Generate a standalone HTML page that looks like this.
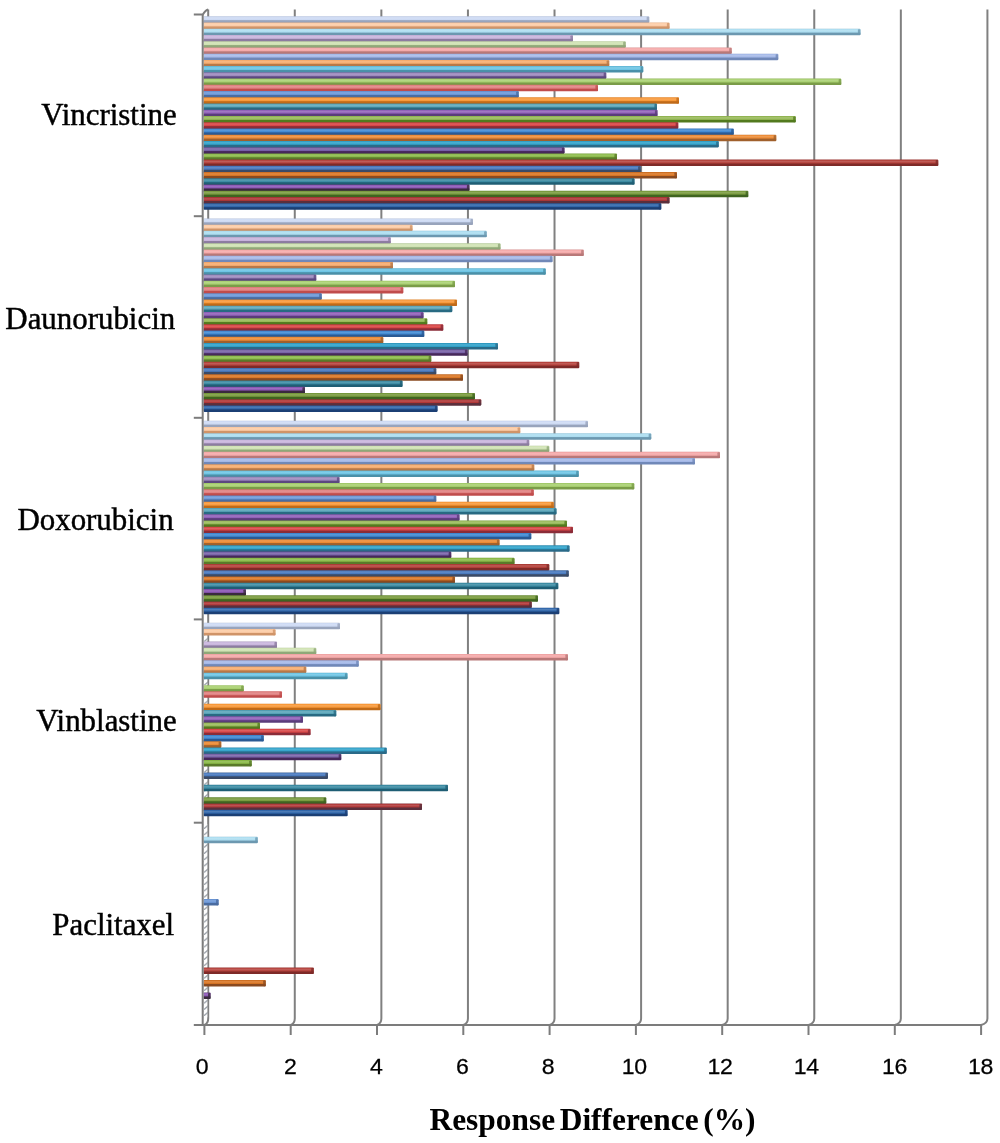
<!DOCTYPE html>
<html><head><meta charset="utf-8"><title>Response Difference</title>
<style>html,body{margin:0;padding:0;background:#fff}body{width:1000px;height:1143px;overflow:hidden}svg{display:block;filter:blur(0.45px)}.cat{font-family:"Liberation Serif",serif;font-size:30.9px;fill:#000;stroke:#000;stroke-width:0.45px}.num{font-family:"Liberation Sans",sans-serif;font-size:21.2px;fill:#000;stroke:#000;stroke-width:0.25px;letter-spacing:-0.4px}.ttl{font-family:"Liberation Serif",serif;font-weight:bold;font-size:31.4px;fill:#000;word-spacing:-3.2px}</style></head><body>
<svg width="1000" height="1143" viewBox="0 0 1000 1143">
<defs>
<linearGradient id="g1" x1="0" y1="0" x2="0" y2="1"><stop offset="0" stop-color="#25528f"/><stop offset="0.10" stop-color="#2F66AA"/><stop offset="0.28" stop-color="#4e7db7"/><stop offset="0.52" stop-color="#2F66AA"/><stop offset="0.68" stop-color="#1B3F74"/><stop offset="1" stop-color="#1B3F74"/></linearGradient>
<linearGradient id="g2" x1="0" y1="0" x2="0" y2="1"><stop offset="0" stop-color="#853239"/><stop offset="0.10" stop-color="#B03636"/><stop offset="0.28" stop-color="#bc5454"/><stop offset="0.52" stop-color="#B03636"/><stop offset="0.68" stop-color="#5A2F3C"/><stop offset="1" stop-color="#5A2F3C"/></linearGradient>
<linearGradient id="g3" x1="0" y1="0" x2="0" y2="1"><stop offset="0" stop-color="#5c7f2e"/><stop offset="0.10" stop-color="#789A3C"/><stop offset="0.28" stop-color="#8ca959"/><stop offset="0.52" stop-color="#789A3C"/><stop offset="0.68" stop-color="#3F6420"/><stop offset="1" stop-color="#3F6420"/></linearGradient>
<linearGradient id="g4" x1="0" y1="0" x2="0" y2="1"><stop offset="0" stop-color="#623f79"/><stop offset="0.10" stop-color="#8A54B4"/><stop offset="0.28" stop-color="#9c6ebf"/><stop offset="0.52" stop-color="#8A54B4"/><stop offset="0.68" stop-color="#3A2A3E"/><stop offset="1" stop-color="#3A2A3E"/></linearGradient>
<linearGradient id="g5" x1="0" y1="0" x2="0" y2="1"><stop offset="0" stop-color="#2c748b"/><stop offset="0.10" stop-color="#3A8AA2"/><stop offset="0.28" stop-color="#589cb0"/><stop offset="0.52" stop-color="#3A8AA2"/><stop offset="0.68" stop-color="#1F5E74"/><stop offset="1" stop-color="#1F5E74"/></linearGradient>
<linearGradient id="g6" x1="0" y1="0" x2="0" y2="1"><stop offset="0" stop-color="#b26022"/><stop offset="0.10" stop-color="#DA7624"/><stop offset="0.28" stop-color="#e08b45"/><stop offset="0.52" stop-color="#DA7624"/><stop offset="0.68" stop-color="#8A4A20"/><stop offset="1" stop-color="#8A4A20"/></linearGradient>
<linearGradient id="g7" x1="0" y1="0" x2="0" y2="1"><stop offset="0" stop-color="#406192"/><stop offset="0.10" stop-color="#4678BE"/><stop offset="0.28" stop-color="#628cc8"/><stop offset="0.52" stop-color="#4678BE"/><stop offset="0.68" stop-color="#3A4A66"/><stop offset="1" stop-color="#3A4A66"/></linearGradient>
<linearGradient id="g8" x1="0" y1="0" x2="0" y2="1"><stop offset="0" stop-color="#993531"/><stop offset="0.10" stop-color="#B4403A"/><stop offset="0.28" stop-color="#bf5d58"/><stop offset="0.52" stop-color="#B4403A"/><stop offset="0.68" stop-color="#7E2A28"/><stop offset="1" stop-color="#7E2A28"/></linearGradient>
<linearGradient id="g9" x1="0" y1="0" x2="0" y2="1"><stop offset="0" stop-color="#729a39"/><stop offset="0.10" stop-color="#8ABA48"/><stop offset="0.28" stop-color="#9cc463"/><stop offset="0.52" stop-color="#8ABA48"/><stop offset="0.68" stop-color="#5A7A2A"/><stop offset="1" stop-color="#5A7A2A"/></linearGradient>
<linearGradient id="g10" x1="0" y1="0" x2="0" y2="1"><stop offset="0" stop-color="#5e4480"/><stop offset="0.10" stop-color="#7660A6"/><stop offset="0.28" stop-color="#8b78b3"/><stop offset="0.52" stop-color="#7660A6"/><stop offset="0.68" stop-color="#46285A"/><stop offset="1" stop-color="#46285A"/></linearGradient>
<linearGradient id="g11" x1="0" y1="0" x2="0" y2="1"><stop offset="0" stop-color="#2d86a9"/><stop offset="0.10" stop-color="#30A2CA"/><stop offset="0.28" stop-color="#4fb0d2"/><stop offset="0.52" stop-color="#30A2CA"/><stop offset="0.68" stop-color="#2A6A88"/><stop offset="1" stop-color="#2A6A88"/></linearGradient>
<linearGradient id="g12" x1="0" y1="0" x2="0" y2="1"><stop offset="0" stop-color="#c67530"/><stop offset="0.10" stop-color="#EC8A34"/><stop offset="0.28" stop-color="#ef9c52"/><stop offset="0.52" stop-color="#EC8A34"/><stop offset="0.68" stop-color="#A0602C"/><stop offset="1" stop-color="#A0602C"/></linearGradient>
<linearGradient id="g13" x1="0" y1="0" x2="0" y2="1"><stop offset="0" stop-color="#3471b3"/><stop offset="0.10" stop-color="#3E88D2"/><stop offset="0.28" stop-color="#5b9ad9"/><stop offset="0.52" stop-color="#3E88D2"/><stop offset="0.68" stop-color="#2A5A94"/><stop offset="1" stop-color="#2A5A94"/></linearGradient>
<linearGradient id="g14" x1="0" y1="0" x2="0" y2="1"><stop offset="0" stop-color="#b1383e"/><stop offset="0.10" stop-color="#D84444"/><stop offset="0.28" stop-color="#de6060"/><stop offset="0.52" stop-color="#D84444"/><stop offset="0.68" stop-color="#8A2C38"/><stop offset="1" stop-color="#8A2C38"/></linearGradient>
<linearGradient id="g15" x1="0" y1="0" x2="0" y2="1"><stop offset="0" stop-color="#759a3b"/><stop offset="0.10" stop-color="#98BA58"/><stop offset="0.28" stop-color="#a7c471"/><stop offset="0.52" stop-color="#98BA58"/><stop offset="0.68" stop-color="#527A1E"/><stop offset="1" stop-color="#527A1E"/></linearGradient>
<linearGradient id="g16" x1="0" y1="0" x2="0" y2="1"><stop offset="0" stop-color="#754e99"/><stop offset="0.10" stop-color="#9060B8"/><stop offset="0.28" stop-color="#a178c3"/><stop offset="0.52" stop-color="#9060B8"/><stop offset="0.68" stop-color="#5A3C7A"/><stop offset="1" stop-color="#5A3C7A"/></linearGradient>
<linearGradient id="g17" x1="0" y1="0" x2="0" y2="1"><stop offset="0" stop-color="#41889e"/><stop offset="0.10" stop-color="#5AA6BA"/><stop offset="0.28" stop-color="#73b3c4"/><stop offset="0.52" stop-color="#5AA6BA"/><stop offset="0.68" stop-color="#286A82"/><stop offset="1" stop-color="#286A82"/></linearGradient>
<linearGradient id="g18" x1="0" y1="0" x2="0" y2="1"><stop offset="0" stop-color="#dc8128"/><stop offset="0.10" stop-color="#F89838"/><stop offset="0.28" stop-color="#f9a756"/><stop offset="0.52" stop-color="#F89838"/><stop offset="0.68" stop-color="#C06A18"/><stop offset="1" stop-color="#C06A18"/></linearGradient>
<linearGradient id="g19" x1="0" y1="0" x2="0" y2="1"><stop offset="0" stop-color="#5b82bc"/><stop offset="0.10" stop-color="#6C98D8"/><stop offset="0.28" stop-color="#82a7de"/><stop offset="0.52" stop-color="#6C98D8"/><stop offset="0.68" stop-color="#4A6CA0"/><stop offset="1" stop-color="#4A6CA0"/></linearGradient>
<linearGradient id="g20" x1="0" y1="0" x2="0" y2="1"><stop offset="0" stop-color="#d06666"/><stop offset="0.10" stop-color="#E08080"/><stop offset="0.28" stop-color="#e59393"/><stop offset="0.52" stop-color="#E08080"/><stop offset="0.68" stop-color="#C04C4C"/><stop offset="1" stop-color="#C04C4C"/></linearGradient>
<linearGradient id="g21" x1="0" y1="0" x2="0" y2="1"><stop offset="0" stop-color="#91b65c"/><stop offset="0.10" stop-color="#A8D070"/><stop offset="0.28" stop-color="#b5d785"/><stop offset="0.52" stop-color="#A8D070"/><stop offset="0.68" stop-color="#7A9C48"/><stop offset="1" stop-color="#7A9C48"/></linearGradient>
<linearGradient id="g22" x1="0" y1="0" x2="0" y2="1"><stop offset="0" stop-color="#7c689e"/><stop offset="0.10" stop-color="#9C88BC"/><stop offset="0.28" stop-color="#ab9ac6"/><stop offset="0.52" stop-color="#9C88BC"/><stop offset="0.68" stop-color="#5C4880"/><stop offset="1" stop-color="#5C4880"/></linearGradient>
<linearGradient id="g23" x1="0" y1="0" x2="0" y2="1"><stop offset="0" stop-color="#5baac6"/><stop offset="0.10" stop-color="#6CC4E4"/><stop offset="0.28" stop-color="#82cde8"/><stop offset="0.52" stop-color="#6CC4E4"/><stop offset="0.68" stop-color="#4A90A8"/><stop offset="1" stop-color="#4A90A8"/></linearGradient>
<linearGradient id="g24" x1="0" y1="0" x2="0" y2="1"><stop offset="0" stop-color="#d7925b"/><stop offset="0.10" stop-color="#F6AC6E"/><stop offset="0.28" stop-color="#f7b884"/><stop offset="0.52" stop-color="#F6AC6E"/><stop offset="0.68" stop-color="#B87848"/><stop offset="1" stop-color="#B87848"/></linearGradient>
<linearGradient id="g25" x1="0" y1="0" x2="0" y2="1"><stop offset="0" stop-color="#8aa0d0"/><stop offset="0.10" stop-color="#A4B8E8"/><stop offset="0.28" stop-color="#b2c3eb"/><stop offset="0.52" stop-color="#A4B8E8"/><stop offset="0.68" stop-color="#7088B8"/><stop offset="1" stop-color="#7088B8"/></linearGradient>
<linearGradient id="g26" x1="0" y1="0" x2="0" y2="1"><stop offset="0" stop-color="#d69090"/><stop offset="0.10" stop-color="#F4A8A8"/><stop offset="0.28" stop-color="#f6b5b5"/><stop offset="0.52" stop-color="#F4A8A8"/><stop offset="0.68" stop-color="#B87878"/><stop offset="1" stop-color="#B87878"/></linearGradient>
<linearGradient id="g27" x1="0" y1="0" x2="0" y2="1"><stop offset="0" stop-color="#afc595"/><stop offset="0.10" stop-color="#CFE2B2"/><stop offset="0.28" stop-color="#d6e6be"/><stop offset="0.52" stop-color="#CFE2B2"/><stop offset="0.68" stop-color="#8FA878"/><stop offset="1" stop-color="#8FA878"/></linearGradient>
<linearGradient id="g28" x1="0" y1="0" x2="0" y2="1"><stop offset="0" stop-color="#aa98be"/><stop offset="0.10" stop-color="#C8B4DC"/><stop offset="0.28" stop-color="#d0bfe1"/><stop offset="0.52" stop-color="#C8B4DC"/><stop offset="0.68" stop-color="#8C7CA0"/><stop offset="1" stop-color="#8C7CA0"/></linearGradient>
<linearGradient id="g29" x1="0" y1="0" x2="0" y2="1"><stop offset="0" stop-color="#8cbad0"/><stop offset="0.10" stop-color="#ACDDF0"/><stop offset="0.28" stop-color="#b8e2f2"/><stop offset="0.52" stop-color="#ACDDF0"/><stop offset="0.68" stop-color="#6C98B0"/><stop offset="1" stop-color="#6C98B0"/></linearGradient>
<linearGradient id="g30" x1="0" y1="0" x2="0" y2="1"><stop offset="0" stop-color="#e6b086"/><stop offset="0.10" stop-color="#FCCBA5"/><stop offset="0.28" stop-color="#fcd3b2"/><stop offset="0.52" stop-color="#FCCBA5"/><stop offset="0.68" stop-color="#D09468"/><stop offset="1" stop-color="#D09468"/></linearGradient>
<linearGradient id="g31" x1="0" y1="0" x2="0" y2="1"><stop offset="0" stop-color="#b2bed8"/><stop offset="0.10" stop-color="#CCD9F3"/><stop offset="0.28" stop-color="#d4dff5"/><stop offset="0.52" stop-color="#CCD9F3"/><stop offset="0.68" stop-color="#98A4BC"/><stop offset="1" stop-color="#98A4BC"/></linearGradient>
<pattern id="hz" width="6" height="6.233" patternUnits="userSpaceOnUse"><rect width="6" height="6.233" fill="#fff"/><path d="M0 6 L6 1" stroke="#9aa0a8" stroke-width="1.3" fill="none"/></pattern>
</defs>
<rect width="1000" height="1143" fill="#fff"/>
<g fill="none" stroke="#808080" stroke-width="2" stroke-linejoin="round">
<path d="M208.20 9.6 V1018.6 Q208.20 1023.6 204.40 1025.00"/>
<path d="M294.78 9.6 V1018.6 Q294.78 1023.6 290.70 1025.00"/>
<path d="M381.36 9.6 V1018.6 Q381.36 1023.6 377.00 1025.00"/>
<path d="M467.94 9.6 V1018.6 Q467.94 1023.6 463.30 1025.00"/>
<path d="M554.52 9.6 V1018.6 Q554.52 1023.6 549.60 1025.00"/>
<path d="M641.10 9.6 V1018.6 Q641.10 1023.6 635.90 1025.00"/>
<path d="M727.68 9.6 V1018.6 Q727.68 1023.6 722.20 1025.00"/>
<path d="M814.26 9.6 V1018.6 Q814.26 1023.6 808.50 1025.00"/>
<path d="M900.84 9.6 V1018.6 Q900.84 1023.6 894.80 1025.00"/>
<path d="M987.42 9.6 V1018.6 Q987.42 1023.6 981.10 1025.00"/>
</g>
<rect x="203.60" y="21.28" width="445.05" height="2.2" fill="#98A4BC"/>
<rect x="203.60" y="27.52" width="465.30" height="2.2" fill="#D09468"/>
<rect x="203.60" y="33.75" width="368.80" height="2.2" fill="#6C98B0"/>
<rect x="203.60" y="39.98" width="368.80" height="2.2" fill="#8C7CA0"/>
<rect x="203.60" y="46.21" width="421.55" height="2.2" fill="#8FA878"/>
<rect x="203.60" y="52.45" width="527.55" height="2.2" fill="#B87878"/>
<rect x="203.60" y="58.68" width="405.05" height="2.2" fill="#7088B8"/>
<rect x="203.60" y="64.91" width="405.05" height="2.2" fill="#B87848"/>
<rect x="203.60" y="71.15" width="402.05" height="2.2" fill="#4A90A8"/>
<rect x="203.60" y="77.38" width="402.05" height="2.2" fill="#5C4880"/>
<rect x="203.60" y="83.61" width="393.80" height="2.2" fill="#7A9C48"/>
<rect x="203.60" y="89.85" width="314.55" height="2.2" fill="#C04C4C"/>
<rect x="203.60" y="96.08" width="314.55" height="2.2" fill="#4A6CA0"/>
<rect x="203.60" y="102.31" width="452.80" height="2.2" fill="#C06A18"/>
<rect x="203.60" y="108.54" width="452.80" height="2.2" fill="#286A82"/>
<rect x="203.60" y="114.78" width="453.30" height="2.2" fill="#5A3C7A"/>
<rect x="203.60" y="121.01" width="474.05" height="2.2" fill="#527A1E"/>
<rect x="203.60" y="127.24" width="474.05" height="2.2" fill="#8A2C38"/>
<rect x="203.60" y="133.48" width="529.55" height="2.2" fill="#2A5A94"/>
<rect x="203.60" y="139.71" width="514.55" height="2.2" fill="#A0602C"/>
<rect x="203.60" y="145.94" width="360.30" height="2.2" fill="#2A6A88"/>
<rect x="203.60" y="152.18" width="360.30" height="2.2" fill="#46285A"/>
<rect x="203.60" y="158.41" width="412.80" height="2.2" fill="#5A7A2A"/>
<rect x="203.60" y="164.64" width="436.55" height="2.2" fill="#7E2A28"/>
<rect x="203.60" y="170.88" width="436.55" height="2.2" fill="#3A4A66"/>
<rect x="203.60" y="177.11" width="430.30" height="2.2" fill="#8A4A20"/>
<rect x="203.60" y="183.34" width="265.30" height="2.2" fill="#1F5E74"/>
<rect x="203.60" y="189.57" width="265.30" height="2.2" fill="#3A2A3E"/>
<rect x="203.60" y="195.81" width="465.30" height="2.2" fill="#3F6420"/>
<rect x="203.60" y="202.04" width="457.05" height="2.2" fill="#5A2F3C"/>
<rect x="203.60" y="16.25" width="445.65" height="6.50" rx="0.8" fill="url(#g31)"/>
<rect x="646.65" y="16.75" width="2.60" height="5.70" rx="0.8" fill="#98A4BC" fill-opacity="0.8"/>
<rect x="203.60" y="22.48" width="465.90" height="6.50" rx="0.8" fill="url(#g30)"/>
<rect x="666.90" y="22.98" width="2.60" height="5.70" rx="0.8" fill="#D09468" fill-opacity="0.8"/>
<rect x="203.60" y="28.72" width="656.90" height="6.50" rx="0.8" fill="url(#g29)"/>
<rect x="857.90" y="29.22" width="2.60" height="5.70" rx="0.8" fill="#6C98B0" fill-opacity="0.8"/>
<rect x="203.60" y="34.95" width="369.40" height="6.50" rx="0.8" fill="url(#g28)"/>
<rect x="570.40" y="35.45" width="2.60" height="5.70" rx="0.8" fill="#8C7CA0" fill-opacity="0.8"/>
<rect x="203.60" y="41.18" width="422.15" height="6.50" rx="0.8" fill="url(#g27)"/>
<rect x="623.15" y="41.68" width="2.60" height="5.70" rx="0.8" fill="#8FA878" fill-opacity="0.8"/>
<rect x="203.60" y="47.41" width="528.15" height="6.50" rx="0.8" fill="url(#g26)"/>
<rect x="729.15" y="47.91" width="2.60" height="5.70" rx="0.8" fill="#B87878" fill-opacity="0.8"/>
<rect x="203.60" y="53.65" width="574.65" height="6.50" rx="0.8" fill="url(#g25)"/>
<rect x="775.65" y="54.15" width="2.60" height="5.70" rx="0.8" fill="#7088B8" fill-opacity="0.8"/>
<rect x="203.60" y="59.88" width="405.65" height="6.50" rx="0.8" fill="url(#g24)"/>
<rect x="606.65" y="60.38" width="2.60" height="5.70" rx="0.8" fill="#B87848" fill-opacity="0.8"/>
<rect x="203.60" y="66.11" width="439.65" height="6.50" rx="0.8" fill="url(#g23)"/>
<rect x="640.65" y="66.61" width="2.60" height="5.70" rx="0.8" fill="#4A90A8" fill-opacity="0.8"/>
<rect x="203.60" y="72.35" width="402.65" height="6.50" rx="0.8" fill="url(#g22)"/>
<rect x="603.65" y="72.85" width="2.60" height="5.70" rx="0.8" fill="#5C4880" fill-opacity="0.8"/>
<rect x="203.60" y="78.58" width="637.65" height="6.50" rx="0.8" fill="url(#g21)"/>
<rect x="838.65" y="79.08" width="2.60" height="5.70" rx="0.8" fill="#7A9C48" fill-opacity="0.8"/>
<rect x="203.60" y="84.81" width="394.40" height="6.50" rx="0.8" fill="url(#g20)"/>
<rect x="595.40" y="85.31" width="2.60" height="5.70" rx="0.8" fill="#C04C4C" fill-opacity="0.8"/>
<rect x="203.60" y="91.05" width="315.15" height="6.50" rx="0.8" fill="url(#g19)"/>
<rect x="516.15" y="91.55" width="2.60" height="5.70" rx="0.8" fill="#4A6CA0" fill-opacity="0.8"/>
<rect x="203.60" y="97.28" width="475.40" height="6.50" rx="0.8" fill="url(#g18)"/>
<rect x="676.40" y="97.78" width="2.60" height="5.70" rx="0.8" fill="#C06A18" fill-opacity="0.8"/>
<rect x="203.60" y="103.51" width="453.40" height="6.50" rx="0.8" fill="url(#g17)"/>
<rect x="654.40" y="104.01" width="2.60" height="5.70" rx="0.8" fill="#286A82" fill-opacity="0.8"/>
<rect x="203.60" y="109.74" width="453.90" height="6.50" rx="0.8" fill="url(#g16)"/>
<rect x="654.90" y="110.24" width="2.60" height="5.70" rx="0.8" fill="#5A3C7A" fill-opacity="0.8"/>
<rect x="203.60" y="115.98" width="592.15" height="6.50" rx="0.8" fill="url(#g15)"/>
<rect x="793.15" y="116.48" width="2.60" height="5.70" rx="0.8" fill="#527A1E" fill-opacity="0.8"/>
<rect x="203.60" y="122.21" width="474.65" height="6.50" rx="0.8" fill="url(#g14)"/>
<rect x="675.65" y="122.71" width="2.60" height="5.70" rx="0.8" fill="#8A2C38" fill-opacity="0.8"/>
<rect x="203.60" y="128.44" width="530.15" height="6.50" rx="0.8" fill="url(#g13)"/>
<rect x="731.15" y="128.94" width="2.60" height="5.70" rx="0.8" fill="#2A5A94" fill-opacity="0.8"/>
<rect x="203.60" y="134.68" width="572.65" height="6.50" rx="0.8" fill="url(#g12)"/>
<rect x="773.65" y="135.18" width="2.60" height="5.70" rx="0.8" fill="#A0602C" fill-opacity="0.8"/>
<rect x="203.60" y="140.91" width="515.15" height="6.50" rx="0.8" fill="url(#g11)"/>
<rect x="716.15" y="141.41" width="2.60" height="5.70" rx="0.8" fill="#2A6A88" fill-opacity="0.8"/>
<rect x="203.60" y="147.14" width="360.90" height="6.50" rx="0.8" fill="url(#g10)"/>
<rect x="561.90" y="147.64" width="2.60" height="5.70" rx="0.8" fill="#46285A" fill-opacity="0.8"/>
<rect x="203.60" y="153.38" width="413.40" height="6.50" rx="0.8" fill="url(#g9)"/>
<rect x="614.40" y="153.88" width="2.60" height="5.70" rx="0.8" fill="#5A7A2A" fill-opacity="0.8"/>
<rect x="203.60" y="159.61" width="734.65" height="6.50" rx="0.8" fill="url(#g8)"/>
<rect x="935.65" y="160.11" width="2.60" height="5.70" rx="0.8" fill="#7E2A28" fill-opacity="0.8"/>
<rect x="203.60" y="165.84" width="437.15" height="6.50" rx="0.8" fill="url(#g7)"/>
<rect x="638.15" y="166.34" width="2.60" height="5.70" rx="0.8" fill="#3A4A66" fill-opacity="0.8"/>
<rect x="203.60" y="172.07" width="473.40" height="6.50" rx="0.8" fill="url(#g6)"/>
<rect x="674.40" y="172.57" width="2.60" height="5.70" rx="0.8" fill="#8A4A20" fill-opacity="0.8"/>
<rect x="203.60" y="178.31" width="430.90" height="6.50" rx="0.8" fill="url(#g5)"/>
<rect x="631.90" y="178.81" width="2.60" height="5.70" rx="0.8" fill="#1F5E74" fill-opacity="0.8"/>
<rect x="203.60" y="184.54" width="265.90" height="6.50" rx="0.8" fill="url(#g4)"/>
<rect x="466.90" y="185.04" width="2.60" height="5.70" rx="0.8" fill="#3A2A3E" fill-opacity="0.8"/>
<rect x="203.60" y="190.77" width="544.65" height="6.50" rx="0.8" fill="url(#g3)"/>
<rect x="745.65" y="191.27" width="2.60" height="5.70" rx="0.8" fill="#3F6420" fill-opacity="0.8"/>
<rect x="203.60" y="197.01" width="465.90" height="6.50" rx="0.8" fill="url(#g2)"/>
<rect x="666.90" y="197.51" width="2.60" height="5.70" rx="0.8" fill="#5A2F3C" fill-opacity="0.8"/>
<rect x="203.60" y="203.24" width="457.65" height="6.50" rx="0.8" fill="url(#g1)"/>
<rect x="658.65" y="203.74" width="2.60" height="5.70" rx="0.8" fill="#1B3F74" fill-opacity="0.8"/>
<rect x="203.60" y="223.43" width="208.30" height="2.2" fill="#98A4BC"/>
<rect x="203.60" y="229.67" width="208.30" height="2.2" fill="#D09468"/>
<rect x="203.60" y="235.90" width="186.55" height="2.2" fill="#6C98B0"/>
<rect x="203.60" y="242.13" width="186.55" height="2.2" fill="#8C7CA0"/>
<rect x="203.60" y="248.37" width="296.30" height="2.2" fill="#8FA878"/>
<rect x="203.60" y="254.60" width="348.30" height="2.2" fill="#B87878"/>
<rect x="203.60" y="260.83" width="188.80" height="2.2" fill="#7088B8"/>
<rect x="203.60" y="267.06" width="188.80" height="2.2" fill="#B87848"/>
<rect x="203.60" y="273.30" width="112.05" height="2.2" fill="#4A90A8"/>
<rect x="203.60" y="279.53" width="112.05" height="2.2" fill="#5C4880"/>
<rect x="203.60" y="285.76" width="199.05" height="2.2" fill="#7A9C48"/>
<rect x="203.60" y="292.00" width="117.55" height="2.2" fill="#C04C4C"/>
<rect x="203.60" y="298.23" width="117.55" height="2.2" fill="#4A6CA0"/>
<rect x="203.60" y="304.46" width="248.05" height="2.2" fill="#C06A18"/>
<rect x="203.60" y="310.69" width="219.30" height="2.2" fill="#286A82"/>
<rect x="203.60" y="316.93" width="219.30" height="2.2" fill="#5A3C7A"/>
<rect x="203.60" y="323.16" width="223.05" height="2.2" fill="#527A1E"/>
<rect x="203.60" y="329.39" width="220.05" height="2.2" fill="#8A2C38"/>
<rect x="203.60" y="335.63" width="179.05" height="2.2" fill="#2A5A94"/>
<rect x="203.60" y="341.86" width="179.05" height="2.2" fill="#A0602C"/>
<rect x="203.60" y="348.09" width="263.30" height="2.2" fill="#2A6A88"/>
<rect x="203.60" y="354.33" width="227.05" height="2.2" fill="#46285A"/>
<rect x="203.60" y="360.56" width="227.05" height="2.2" fill="#5A7A2A"/>
<rect x="203.60" y="366.79" width="232.05" height="2.2" fill="#7E2A28"/>
<rect x="203.60" y="373.03" width="232.05" height="2.2" fill="#3A4A66"/>
<rect x="203.60" y="379.26" width="198.30" height="2.2" fill="#8A4A20"/>
<rect x="203.60" y="385.49" width="100.80" height="2.2" fill="#1F5E74"/>
<rect x="203.60" y="391.72" width="100.80" height="2.2" fill="#3A2A3E"/>
<rect x="203.60" y="397.96" width="270.80" height="2.2" fill="#3F6420"/>
<rect x="203.60" y="404.19" width="233.30" height="2.2" fill="#5A2F3C"/>
<rect x="203.60" y="218.40" width="269.40" height="6.50" rx="0.8" fill="url(#g31)"/>
<rect x="470.40" y="218.90" width="2.60" height="5.70" rx="0.8" fill="#98A4BC" fill-opacity="0.8"/>
<rect x="203.60" y="224.63" width="208.90" height="6.50" rx="0.8" fill="url(#g30)"/>
<rect x="409.90" y="225.13" width="2.60" height="5.70" rx="0.8" fill="#D09468" fill-opacity="0.8"/>
<rect x="203.60" y="230.87" width="283.15" height="6.50" rx="0.8" fill="url(#g29)"/>
<rect x="484.15" y="231.37" width="2.60" height="5.70" rx="0.8" fill="#6C98B0" fill-opacity="0.8"/>
<rect x="203.60" y="237.10" width="187.15" height="6.50" rx="0.8" fill="url(#g28)"/>
<rect x="388.15" y="237.60" width="2.60" height="5.70" rx="0.8" fill="#8C7CA0" fill-opacity="0.8"/>
<rect x="203.60" y="243.33" width="296.90" height="6.50" rx="0.8" fill="url(#g27)"/>
<rect x="497.90" y="243.83" width="2.60" height="5.70" rx="0.8" fill="#8FA878" fill-opacity="0.8"/>
<rect x="203.60" y="249.56" width="380.15" height="6.50" rx="0.8" fill="url(#g26)"/>
<rect x="581.15" y="250.06" width="2.60" height="5.70" rx="0.8" fill="#B87878" fill-opacity="0.8"/>
<rect x="203.60" y="255.80" width="348.90" height="6.50" rx="0.8" fill="url(#g25)"/>
<rect x="549.90" y="256.30" width="2.60" height="5.70" rx="0.8" fill="#7088B8" fill-opacity="0.8"/>
<rect x="203.60" y="262.03" width="189.40" height="6.50" rx="0.8" fill="url(#g24)"/>
<rect x="390.40" y="262.53" width="2.60" height="5.70" rx="0.8" fill="#B87848" fill-opacity="0.8"/>
<rect x="203.60" y="268.26" width="342.15" height="6.50" rx="0.8" fill="url(#g23)"/>
<rect x="543.15" y="268.76" width="2.60" height="5.70" rx="0.8" fill="#4A90A8" fill-opacity="0.8"/>
<rect x="203.60" y="274.50" width="112.65" height="6.50" rx="0.8" fill="url(#g22)"/>
<rect x="313.65" y="275.00" width="2.60" height="5.70" rx="0.8" fill="#5C4880" fill-opacity="0.8"/>
<rect x="203.60" y="280.73" width="251.40" height="6.50" rx="0.8" fill="url(#g21)"/>
<rect x="452.40" y="281.23" width="2.60" height="5.70" rx="0.8" fill="#7A9C48" fill-opacity="0.8"/>
<rect x="203.60" y="286.96" width="199.65" height="6.50" rx="0.8" fill="url(#g20)"/>
<rect x="400.65" y="287.46" width="2.60" height="5.70" rx="0.8" fill="#C04C4C" fill-opacity="0.8"/>
<rect x="203.60" y="293.20" width="118.15" height="6.50" rx="0.8" fill="url(#g19)"/>
<rect x="319.15" y="293.70" width="2.60" height="5.70" rx="0.8" fill="#4A6CA0" fill-opacity="0.8"/>
<rect x="203.60" y="299.43" width="253.40" height="6.50" rx="0.8" fill="url(#g18)"/>
<rect x="454.40" y="299.93" width="2.60" height="5.70" rx="0.8" fill="#C06A18" fill-opacity="0.8"/>
<rect x="203.60" y="305.66" width="248.65" height="6.50" rx="0.8" fill="url(#g17)"/>
<rect x="449.65" y="306.16" width="2.60" height="5.70" rx="0.8" fill="#286A82" fill-opacity="0.8"/>
<rect x="203.60" y="311.89" width="219.90" height="6.50" rx="0.8" fill="url(#g16)"/>
<rect x="420.90" y="312.39" width="2.60" height="5.70" rx="0.8" fill="#5A3C7A" fill-opacity="0.8"/>
<rect x="203.60" y="318.13" width="223.65" height="6.50" rx="0.8" fill="url(#g15)"/>
<rect x="424.65" y="318.63" width="2.60" height="5.70" rx="0.8" fill="#527A1E" fill-opacity="0.8"/>
<rect x="203.60" y="324.36" width="239.65" height="6.50" rx="0.8" fill="url(#g14)"/>
<rect x="440.65" y="324.86" width="2.60" height="5.70" rx="0.8" fill="#8A2C38" fill-opacity="0.8"/>
<rect x="203.60" y="330.59" width="220.65" height="6.50" rx="0.8" fill="url(#g13)"/>
<rect x="421.65" y="331.09" width="2.60" height="5.70" rx="0.8" fill="#2A5A94" fill-opacity="0.8"/>
<rect x="203.60" y="336.83" width="179.65" height="6.50" rx="0.8" fill="url(#g12)"/>
<rect x="380.65" y="337.33" width="2.60" height="5.70" rx="0.8" fill="#A0602C" fill-opacity="0.8"/>
<rect x="203.60" y="343.06" width="294.40" height="6.50" rx="0.8" fill="url(#g11)"/>
<rect x="495.40" y="343.56" width="2.60" height="5.70" rx="0.8" fill="#2A6A88" fill-opacity="0.8"/>
<rect x="203.60" y="349.29" width="263.90" height="6.50" rx="0.8" fill="url(#g10)"/>
<rect x="464.90" y="349.79" width="2.60" height="5.70" rx="0.8" fill="#46285A" fill-opacity="0.8"/>
<rect x="203.60" y="355.53" width="227.65" height="6.50" rx="0.8" fill="url(#g9)"/>
<rect x="428.65" y="356.03" width="2.60" height="5.70" rx="0.8" fill="#5A7A2A" fill-opacity="0.8"/>
<rect x="203.60" y="361.76" width="375.60" height="6.50" rx="0.8" fill="url(#g8)"/>
<rect x="576.60" y="362.26" width="2.60" height="5.70" rx="0.8" fill="#7E2A28" fill-opacity="0.8"/>
<rect x="203.60" y="367.99" width="232.65" height="6.50" rx="0.8" fill="url(#g7)"/>
<rect x="433.65" y="368.49" width="2.60" height="5.70" rx="0.8" fill="#3A4A66" fill-opacity="0.8"/>
<rect x="203.60" y="374.23" width="259.40" height="6.50" rx="0.8" fill="url(#g6)"/>
<rect x="460.40" y="374.73" width="2.60" height="5.70" rx="0.8" fill="#8A4A20" fill-opacity="0.8"/>
<rect x="203.60" y="380.46" width="198.90" height="6.50" rx="0.8" fill="url(#g5)"/>
<rect x="399.90" y="380.96" width="2.60" height="5.70" rx="0.8" fill="#1F5E74" fill-opacity="0.8"/>
<rect x="203.60" y="386.69" width="101.40" height="6.50" rx="0.8" fill="url(#g4)"/>
<rect x="302.40" y="387.19" width="2.60" height="5.70" rx="0.8" fill="#3A2A3E" fill-opacity="0.8"/>
<rect x="203.60" y="392.92" width="271.40" height="6.50" rx="0.8" fill="url(#g3)"/>
<rect x="472.40" y="393.42" width="2.60" height="5.70" rx="0.8" fill="#3F6420" fill-opacity="0.8"/>
<rect x="203.60" y="399.16" width="277.65" height="6.50" rx="0.8" fill="url(#g2)"/>
<rect x="478.65" y="399.66" width="2.60" height="5.70" rx="0.8" fill="#5A2F3C" fill-opacity="0.8"/>
<rect x="203.60" y="405.39" width="233.90" height="6.50" rx="0.8" fill="url(#g1)"/>
<rect x="434.90" y="405.89" width="2.60" height="5.70" rx="0.8" fill="#1B3F74" fill-opacity="0.8"/>
<rect x="203.60" y="425.73" width="316.05" height="2.2" fill="#98A4BC"/>
<rect x="203.60" y="431.97" width="316.05" height="2.2" fill="#D09468"/>
<rect x="203.60" y="438.20" width="325.05" height="2.2" fill="#6C98B0"/>
<rect x="203.60" y="444.43" width="325.05" height="2.2" fill="#8C7CA0"/>
<rect x="203.60" y="450.67" width="345.05" height="2.2" fill="#8FA878"/>
<rect x="203.60" y="456.90" width="490.80" height="2.2" fill="#B87878"/>
<rect x="203.60" y="463.13" width="330.05" height="2.2" fill="#7088B8"/>
<rect x="203.60" y="469.36" width="330.05" height="2.2" fill="#B87848"/>
<rect x="203.60" y="475.60" width="135.30" height="2.2" fill="#4A90A8"/>
<rect x="203.60" y="481.83" width="135.30" height="2.2" fill="#5C4880"/>
<rect x="203.60" y="488.06" width="329.55" height="2.2" fill="#7A9C48"/>
<rect x="203.60" y="494.30" width="232.05" height="2.2" fill="#C04C4C"/>
<rect x="203.60" y="500.53" width="232.05" height="2.2" fill="#4A6CA0"/>
<rect x="203.60" y="506.76" width="349.55" height="2.2" fill="#C06A18"/>
<rect x="203.60" y="512.99" width="255.30" height="2.2" fill="#286A82"/>
<rect x="203.60" y="519.23" width="255.30" height="2.2" fill="#5A3C7A"/>
<rect x="203.60" y="525.46" width="362.80" height="2.2" fill="#527A1E"/>
<rect x="203.60" y="531.69" width="327.05" height="2.2" fill="#8A2C38"/>
<rect x="203.60" y="537.93" width="295.30" height="2.2" fill="#2A5A94"/>
<rect x="203.60" y="544.16" width="295.30" height="2.2" fill="#A0602C"/>
<rect x="203.60" y="550.39" width="247.05" height="2.2" fill="#2A6A88"/>
<rect x="203.60" y="556.63" width="247.05" height="2.2" fill="#46285A"/>
<rect x="203.60" y="562.86" width="310.30" height="2.2" fill="#5A7A2A"/>
<rect x="203.60" y="569.09" width="345.05" height="2.2" fill="#7E2A28"/>
<rect x="203.60" y="575.32" width="250.80" height="2.2" fill="#3A4A66"/>
<rect x="203.60" y="581.56" width="250.80" height="2.2" fill="#8A4A20"/>
<rect x="203.60" y="587.79" width="41.80" height="2.2" fill="#1F5E74"/>
<rect x="203.60" y="594.02" width="41.80" height="2.2" fill="#3A2A3E"/>
<rect x="203.60" y="600.26" width="327.55" height="2.2" fill="#3F6420"/>
<rect x="203.60" y="606.49" width="327.55" height="2.2" fill="#5A2F3C"/>
<rect x="203.60" y="420.70" width="384.40" height="6.50" rx="0.8" fill="url(#g31)"/>
<rect x="585.40" y="421.20" width="2.60" height="5.70" rx="0.8" fill="#98A4BC" fill-opacity="0.8"/>
<rect x="203.60" y="426.93" width="316.65" height="6.50" rx="0.8" fill="url(#g30)"/>
<rect x="517.65" y="427.43" width="2.60" height="5.70" rx="0.8" fill="#D09468" fill-opacity="0.8"/>
<rect x="203.60" y="433.17" width="447.65" height="6.50" rx="0.8" fill="url(#g29)"/>
<rect x="648.65" y="433.67" width="2.60" height="5.70" rx="0.8" fill="#6C98B0" fill-opacity="0.8"/>
<rect x="203.60" y="439.40" width="325.65" height="6.50" rx="0.8" fill="url(#g28)"/>
<rect x="526.65" y="439.90" width="2.60" height="5.70" rx="0.8" fill="#8C7CA0" fill-opacity="0.8"/>
<rect x="203.60" y="445.63" width="345.65" height="6.50" rx="0.8" fill="url(#g27)"/>
<rect x="546.65" y="446.13" width="2.60" height="5.70" rx="0.8" fill="#8FA878" fill-opacity="0.8"/>
<rect x="203.60" y="451.87" width="516.40" height="6.50" rx="0.8" fill="url(#g26)"/>
<rect x="717.40" y="452.37" width="2.60" height="5.70" rx="0.8" fill="#B87878" fill-opacity="0.8"/>
<rect x="203.60" y="458.10" width="491.40" height="6.50" rx="0.8" fill="url(#g25)"/>
<rect x="692.40" y="458.60" width="2.60" height="5.70" rx="0.8" fill="#7088B8" fill-opacity="0.8"/>
<rect x="203.60" y="464.33" width="330.65" height="6.50" rx="0.8" fill="url(#g24)"/>
<rect x="531.65" y="464.83" width="2.60" height="5.70" rx="0.8" fill="#B87848" fill-opacity="0.8"/>
<rect x="203.60" y="470.56" width="375.15" height="6.50" rx="0.8" fill="url(#g23)"/>
<rect x="576.15" y="471.06" width="2.60" height="5.70" rx="0.8" fill="#4A90A8" fill-opacity="0.8"/>
<rect x="203.60" y="476.80" width="135.90" height="6.50" rx="0.8" fill="url(#g22)"/>
<rect x="336.90" y="477.30" width="2.60" height="5.70" rx="0.8" fill="#5C4880" fill-opacity="0.8"/>
<rect x="203.60" y="483.03" width="430.65" height="6.50" rx="0.8" fill="url(#g21)"/>
<rect x="631.65" y="483.53" width="2.60" height="5.70" rx="0.8" fill="#7A9C48" fill-opacity="0.8"/>
<rect x="203.60" y="489.26" width="330.15" height="6.50" rx="0.8" fill="url(#g20)"/>
<rect x="531.15" y="489.76" width="2.60" height="5.70" rx="0.8" fill="#C04C4C" fill-opacity="0.8"/>
<rect x="203.60" y="495.50" width="232.65" height="6.50" rx="0.8" fill="url(#g19)"/>
<rect x="433.65" y="496.00" width="2.60" height="5.70" rx="0.8" fill="#4A6CA0" fill-opacity="0.8"/>
<rect x="203.60" y="501.73" width="350.15" height="6.50" rx="0.8" fill="url(#g18)"/>
<rect x="551.15" y="502.23" width="2.60" height="5.70" rx="0.8" fill="#C06A18" fill-opacity="0.8"/>
<rect x="203.60" y="507.96" width="352.90" height="6.50" rx="0.8" fill="url(#g17)"/>
<rect x="553.90" y="508.46" width="2.60" height="5.70" rx="0.8" fill="#286A82" fill-opacity="0.8"/>
<rect x="203.60" y="514.19" width="255.90" height="6.50" rx="0.8" fill="url(#g16)"/>
<rect x="456.90" y="514.69" width="2.60" height="5.70" rx="0.8" fill="#5A3C7A" fill-opacity="0.8"/>
<rect x="203.60" y="520.43" width="363.40" height="6.50" rx="0.8" fill="url(#g15)"/>
<rect x="564.40" y="520.93" width="2.60" height="5.70" rx="0.8" fill="#527A1E" fill-opacity="0.8"/>
<rect x="203.60" y="526.66" width="369.40" height="6.50" rx="0.8" fill="url(#g14)"/>
<rect x="570.40" y="527.16" width="2.60" height="5.70" rx="0.8" fill="#8A2C38" fill-opacity="0.8"/>
<rect x="203.60" y="532.89" width="327.65" height="6.50" rx="0.8" fill="url(#g13)"/>
<rect x="528.65" y="533.39" width="2.60" height="5.70" rx="0.8" fill="#2A5A94" fill-opacity="0.8"/>
<rect x="203.60" y="539.13" width="295.90" height="6.50" rx="0.8" fill="url(#g12)"/>
<rect x="496.90" y="539.63" width="2.60" height="5.70" rx="0.8" fill="#A0602C" fill-opacity="0.8"/>
<rect x="203.60" y="545.36" width="365.90" height="6.50" rx="0.8" fill="url(#g11)"/>
<rect x="566.90" y="545.86" width="2.60" height="5.70" rx="0.8" fill="#2A6A88" fill-opacity="0.8"/>
<rect x="203.60" y="551.59" width="247.65" height="6.50" rx="0.8" fill="url(#g10)"/>
<rect x="448.65" y="552.09" width="2.60" height="5.70" rx="0.8" fill="#46285A" fill-opacity="0.8"/>
<rect x="203.60" y="557.83" width="310.90" height="6.50" rx="0.8" fill="url(#g9)"/>
<rect x="511.90" y="558.33" width="2.60" height="5.70" rx="0.8" fill="#5A7A2A" fill-opacity="0.8"/>
<rect x="203.60" y="564.06" width="345.65" height="6.50" rx="0.8" fill="url(#g8)"/>
<rect x="546.65" y="564.56" width="2.60" height="5.70" rx="0.8" fill="#7E2A28" fill-opacity="0.8"/>
<rect x="203.60" y="570.29" width="365.15" height="6.50" rx="0.8" fill="url(#g7)"/>
<rect x="566.15" y="570.79" width="2.60" height="5.70" rx="0.8" fill="#3A4A66" fill-opacity="0.8"/>
<rect x="203.60" y="576.52" width="251.40" height="6.50" rx="0.8" fill="url(#g6)"/>
<rect x="452.40" y="577.02" width="2.60" height="5.70" rx="0.8" fill="#8A4A20" fill-opacity="0.8"/>
<rect x="203.60" y="582.76" width="354.65" height="6.50" rx="0.8" fill="url(#g5)"/>
<rect x="555.65" y="583.26" width="2.60" height="5.70" rx="0.8" fill="#1F5E74" fill-opacity="0.8"/>
<rect x="203.60" y="588.99" width="42.40" height="6.50" rx="0.8" fill="url(#g4)"/>
<rect x="243.40" y="589.49" width="2.60" height="5.70" rx="0.8" fill="#3A2A3E" fill-opacity="0.8"/>
<rect x="203.60" y="595.22" width="334.40" height="6.50" rx="0.8" fill="url(#g3)"/>
<rect x="535.40" y="595.72" width="2.60" height="5.70" rx="0.8" fill="#3F6420" fill-opacity="0.8"/>
<rect x="203.60" y="601.46" width="328.15" height="6.50" rx="0.8" fill="url(#g2)"/>
<rect x="529.15" y="601.96" width="2.60" height="5.70" rx="0.8" fill="#5A2F3C" fill-opacity="0.8"/>
<rect x="203.60" y="607.69" width="355.65" height="6.50" rx="0.8" fill="url(#g1)"/>
<rect x="556.65" y="608.19" width="2.60" height="5.70" rx="0.8" fill="#1B3F74" fill-opacity="0.8"/>
<rect x="203.60" y="635.27" width="3.70" height="6.23" fill="url(#hz)"/>
<rect x="203.60" y="678.90" width="3.70" height="6.23" fill="url(#hz)"/>
<rect x="203.60" y="697.60" width="3.70" height="6.23" fill="url(#hz)"/>
<rect x="203.60" y="766.16" width="3.70" height="6.23" fill="url(#hz)"/>
<rect x="203.60" y="778.62" width="3.70" height="6.23" fill="url(#hz)"/>
<rect x="203.60" y="791.09" width="3.70" height="6.23" fill="url(#hz)"/>
<rect x="203.60" y="627.83" width="71.30" height="2.2" fill="#98A4BC"/>
<rect x="203.60" y="646.53" width="72.80" height="2.2" fill="#8C7CA0"/>
<rect x="203.60" y="652.76" width="112.05" height="2.2" fill="#8FA878"/>
<rect x="203.60" y="659.00" width="154.55" height="2.2" fill="#B87878"/>
<rect x="203.60" y="665.23" width="102.05" height="2.2" fill="#7088B8"/>
<rect x="203.60" y="671.46" width="102.05" height="2.2" fill="#B87848"/>
<rect x="203.60" y="690.16" width="39.55" height="2.2" fill="#7A9C48"/>
<rect x="203.60" y="708.86" width="132.05" height="2.2" fill="#C06A18"/>
<rect x="203.60" y="715.09" width="98.80" height="2.2" fill="#286A82"/>
<rect x="203.60" y="721.33" width="55.80" height="2.2" fill="#5A3C7A"/>
<rect x="203.60" y="727.56" width="55.80" height="2.2" fill="#527A1E"/>
<rect x="203.60" y="733.79" width="59.55" height="2.2" fill="#8A2C38"/>
<rect x="203.60" y="740.03" width="17.05" height="2.2" fill="#2A5A94"/>
<rect x="203.60" y="746.26" width="17.05" height="2.2" fill="#A0602C"/>
<rect x="203.60" y="752.49" width="137.05" height="2.2" fill="#2A6A88"/>
<rect x="203.60" y="758.73" width="47.55" height="2.2" fill="#46285A"/>
<rect x="203.60" y="802.36" width="122.05" height="2.2" fill="#3F6420"/>
<rect x="203.60" y="808.59" width="143.30" height="2.2" fill="#5A2F3C"/>
<rect x="203.60" y="622.80" width="136.40" height="6.50" rx="0.8" fill="url(#g31)"/>
<rect x="337.40" y="623.30" width="2.60" height="5.70" rx="0.8" fill="#98A4BC" fill-opacity="0.8"/>
<rect x="203.60" y="629.03" width="71.90" height="6.50" rx="0.8" fill="url(#g30)"/>
<rect x="272.90" y="629.53" width="2.60" height="5.70" rx="0.8" fill="#D09468" fill-opacity="0.8"/>
<rect x="203.60" y="641.50" width="73.40" height="6.50" rx="0.8" fill="url(#g28)"/>
<rect x="274.40" y="642.00" width="2.60" height="5.70" rx="0.8" fill="#8C7CA0" fill-opacity="0.8"/>
<rect x="203.60" y="647.73" width="112.65" height="6.50" rx="0.8" fill="url(#g27)"/>
<rect x="313.65" y="648.23" width="2.60" height="5.70" rx="0.8" fill="#8FA878" fill-opacity="0.8"/>
<rect x="203.60" y="653.96" width="364.40" height="6.50" rx="0.8" fill="url(#g26)"/>
<rect x="565.40" y="654.46" width="2.60" height="5.70" rx="0.8" fill="#B87878" fill-opacity="0.8"/>
<rect x="203.60" y="660.20" width="155.15" height="6.50" rx="0.8" fill="url(#g25)"/>
<rect x="356.15" y="660.70" width="2.60" height="5.70" rx="0.8" fill="#7088B8" fill-opacity="0.8"/>
<rect x="203.60" y="666.43" width="102.65" height="6.50" rx="0.8" fill="url(#g24)"/>
<rect x="303.65" y="666.93" width="2.60" height="5.70" rx="0.8" fill="#B87848" fill-opacity="0.8"/>
<rect x="203.60" y="672.66" width="143.90" height="6.50" rx="0.8" fill="url(#g23)"/>
<rect x="344.90" y="673.16" width="2.60" height="5.70" rx="0.8" fill="#4A90A8" fill-opacity="0.8"/>
<rect x="203.60" y="685.13" width="40.15" height="6.50" rx="0.8" fill="url(#g21)"/>
<rect x="241.15" y="685.63" width="2.60" height="5.70" rx="0.8" fill="#7A9C48" fill-opacity="0.8"/>
<rect x="203.60" y="691.36" width="78.40" height="6.50" rx="0.8" fill="url(#g20)"/>
<rect x="279.40" y="691.86" width="2.60" height="5.70" rx="0.8" fill="#C04C4C" fill-opacity="0.8"/>
<rect x="203.60" y="703.83" width="176.90" height="6.50" rx="0.8" fill="url(#g18)"/>
<rect x="377.90" y="704.33" width="2.60" height="5.70" rx="0.8" fill="#C06A18" fill-opacity="0.8"/>
<rect x="203.60" y="710.06" width="132.65" height="6.50" rx="0.8" fill="url(#g17)"/>
<rect x="333.65" y="710.56" width="2.60" height="5.70" rx="0.8" fill="#286A82" fill-opacity="0.8"/>
<rect x="203.60" y="716.29" width="99.40" height="6.50" rx="0.8" fill="url(#g16)"/>
<rect x="300.40" y="716.79" width="2.60" height="5.70" rx="0.8" fill="#5A3C7A" fill-opacity="0.8"/>
<rect x="203.60" y="722.53" width="56.40" height="6.50" rx="0.8" fill="url(#g15)"/>
<rect x="257.40" y="723.03" width="2.60" height="5.70" rx="0.8" fill="#527A1E" fill-opacity="0.8"/>
<rect x="203.60" y="728.76" width="106.90" height="6.50" rx="0.8" fill="url(#g14)"/>
<rect x="307.90" y="729.26" width="2.60" height="5.70" rx="0.8" fill="#8A2C38" fill-opacity="0.8"/>
<rect x="203.60" y="734.99" width="60.15" height="6.50" rx="0.8" fill="url(#g13)"/>
<rect x="261.15" y="735.49" width="2.60" height="5.70" rx="0.8" fill="#2A5A94" fill-opacity="0.8"/>
<rect x="203.60" y="741.23" width="17.65" height="6.50" rx="0.8" fill="url(#g12)"/>
<rect x="218.65" y="741.73" width="2.60" height="5.70" rx="0.8" fill="#A0602C" fill-opacity="0.8"/>
<rect x="203.60" y="747.46" width="183.15" height="6.50" rx="0.8" fill="url(#g11)"/>
<rect x="384.15" y="747.96" width="2.60" height="5.70" rx="0.8" fill="#2A6A88" fill-opacity="0.8"/>
<rect x="203.60" y="753.69" width="137.65" height="6.50" rx="0.8" fill="url(#g10)"/>
<rect x="338.65" y="754.19" width="2.60" height="5.70" rx="0.8" fill="#46285A" fill-opacity="0.8"/>
<rect x="203.60" y="759.93" width="48.15" height="6.50" rx="0.8" fill="url(#g9)"/>
<rect x="249.15" y="760.43" width="2.60" height="5.70" rx="0.8" fill="#5A7A2A" fill-opacity="0.8"/>
<rect x="203.60" y="772.39" width="124.40" height="6.50" rx="0.8" fill="url(#g7)"/>
<rect x="325.40" y="772.89" width="2.60" height="5.70" rx="0.8" fill="#3A4A66" fill-opacity="0.8"/>
<rect x="203.60" y="784.86" width="244.40" height="6.50" rx="0.8" fill="url(#g5)"/>
<rect x="445.40" y="785.36" width="2.60" height="5.70" rx="0.8" fill="#1F5E74" fill-opacity="0.8"/>
<rect x="203.60" y="797.32" width="122.65" height="6.50" rx="0.8" fill="url(#g3)"/>
<rect x="323.65" y="797.82" width="2.60" height="5.70" rx="0.8" fill="#3F6420" fill-opacity="0.8"/>
<rect x="203.60" y="803.56" width="218.40" height="6.50" rx="0.8" fill="url(#g2)"/>
<rect x="419.40" y="804.06" width="2.60" height="5.70" rx="0.8" fill="#5A2F3C" fill-opacity="0.8"/>
<rect x="203.60" y="809.79" width="143.90" height="6.50" rx="0.8" fill="url(#g1)"/>
<rect x="344.90" y="810.29" width="2.60" height="5.70" rx="0.8" fill="#1B3F74" fill-opacity="0.8"/>
<rect x="203.60" y="824.20" width="3.70" height="12.47" fill="url(#hz)"/>
<rect x="203.60" y="842.90" width="3.70" height="56.10" fill="url(#hz)"/>
<rect x="203.60" y="905.23" width="3.70" height="62.33" fill="url(#hz)"/>
<rect x="203.60" y="973.79" width="3.70" height="6.23" fill="url(#hz)"/>
<rect x="203.60" y="986.26" width="3.70" height="6.23" fill="url(#hz)"/>
<rect x="203.60" y="998.72" width="3.70" height="18.70" fill="url(#hz)"/>
<rect x="203.60" y="836.67" width="54.20" height="6.50" rx="0.8" fill="url(#g29)"/>
<rect x="255.20" y="837.17" width="2.60" height="5.70" rx="0.8" fill="#6C98B0" fill-opacity="0.8"/>
<rect x="203.60" y="899.00" width="15.00" height="6.50" rx="0.8" fill="url(#g19)"/>
<rect x="216.00" y="899.50" width="2.60" height="5.70" rx="0.8" fill="#4A6CA0" fill-opacity="0.8"/>
<rect x="203.60" y="967.56" width="110.20" height="6.50" rx="0.8" fill="url(#g8)"/>
<rect x="311.20" y="968.06" width="2.60" height="5.70" rx="0.8" fill="#7E2A28" fill-opacity="0.8"/>
<rect x="203.60" y="980.03" width="62.20" height="6.50" rx="0.8" fill="url(#g6)"/>
<rect x="263.20" y="980.53" width="2.60" height="5.70" rx="0.8" fill="#8A4A20" fill-opacity="0.8"/>
<rect x="203.60" y="992.49" width="7.00" height="6.50" rx="0.8" fill="url(#g4)"/>
<rect x="208.00" y="992.99" width="2.60" height="5.70" rx="0.8" fill="#3A2A3E" fill-opacity="0.8"/>
<g fill="none" stroke="#7c7c7c" stroke-width="2">
<path d="M202.70 1025.00 V14.6"/>
<path d="M193.8 14.6 H202.70 Q205.90 10 208.20 9.6"/>
<path d="M193.8 216.20 H202.70"/>
<path d="M193.8 417.80 H202.70"/>
<path d="M193.8 619.40 H202.70"/>
<path d="M193.8 822.70 H202.70"/>
<path d="M193.8 1025.00 H981.10"/>
<path d="M204.40 1025.00 V1035.00"/>
<path d="M290.70 1025.00 V1035.00"/>
<path d="M377.00 1025.00 V1035.00"/>
<path d="M463.30 1025.00 V1035.00"/>
<path d="M549.60 1025.00 V1035.00"/>
<path d="M635.90 1025.00 V1035.00"/>
<path d="M722.20 1025.00 V1035.00"/>
<path d="M808.50 1025.00 V1035.00"/>
<path d="M894.80 1025.00 V1035.00"/>
<path d="M981.10 1025.00 V1035.00"/>
</g>
<text class="num" transform="translate(202.00 1074.4) scale(1.09 1)" text-anchor="middle">0</text>
<text class="num" transform="translate(290.20 1074.4) scale(1.09 1)" text-anchor="middle">2</text>
<text class="num" transform="translate(376.30 1074.4) scale(1.09 1)" text-anchor="middle">4</text>
<text class="num" transform="translate(462.30 1074.4) scale(1.09 1)" text-anchor="middle">6</text>
<text class="num" transform="translate(548.00 1074.4) scale(1.09 1)" text-anchor="middle">8</text>
<text class="num" transform="translate(634.20 1074.4) scale(1.09 1)" text-anchor="middle">10</text>
<text class="num" transform="translate(720.00 1074.4) scale(1.09 1)" text-anchor="middle">12</text>
<text class="num" transform="translate(806.20 1074.4) scale(1.09 1)" text-anchor="middle">14</text>
<text class="num" transform="translate(894.40 1074.4) scale(1.09 1)" text-anchor="middle">16</text>
<text class="num" transform="translate(980.50 1074.4) scale(1.09 1)" text-anchor="middle">18</text>
<text class="cat" x="176.7" y="124.9" text-anchor="end">Vincristine</text>
<text class="cat" x="175.2" y="328.5" text-anchor="end">Daunorubicin</text>
<text class="cat" x="173.6" y="530.0" text-anchor="end">Doxorubicin</text>
<text class="cat" x="176.7" y="731.2" text-anchor="end">Vinblastine</text>
<text class="cat" x="174.1" y="935.2" text-anchor="end">Paclitaxel</text>
<text class="ttl" x="592.5" y="1130" text-anchor="middle">Response Difference (%)</text>
</svg></body></html>
